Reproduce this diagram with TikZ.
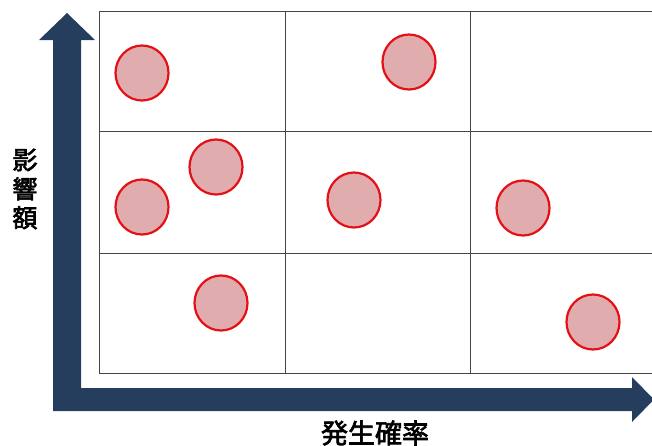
\documentclass[tikz,border=0pt]{standalone}
\usepackage{fontspec}
\usetikzlibrary{shapes.geometric}
\newfontfamily\cjk[FakeBold=2.5]{Noto Sans CJK JP}
\definecolor{navy}{RGB}{37,62,94}
\definecolor{riskfill}{RGB}{224,172,174}
\definecolor{riskline}{RGB}{228,16,22}
\definecolor{gridc}{RGB}{70,70,70}
\begin{document}
\begin{tikzpicture}[x=1pt,y=-1pt,
  risk/.style={ellipse,draw=riskline,fill=riskfill,line width=2.2pt,minimum width=53pt,minimum height=55pt,inner sep=0pt},
  gridline/.style={draw=gridc,line width=1pt},
  axis/.style={fill=navy},
  lbl/.style={font=\cjk\fontsize{27}{29}\selectfont,text=black,inner sep=0pt}]
\useasboundingbox (0,0) rectangle (652,445);
\begin{scope}
\clip (0,0) rectangle (652,445);
% grid
\draw[gridline] (99,11) -- (660,11);
\draw[gridline] (99,131) -- (660,131);
\draw[gridline] (99,253) -- (660,253);
\draw[gridline] (99,373) -- (660,373);
\draw[gridline] (99,11) -- (99,373);
\draw[gridline] (285,11) -- (285,373);
\draw[gridline] (470,11) -- (470,373);
% axes
\fill[axis] (53,40) -- (39,40) -- (67,13) -- (95,40) -- (81,40) -- (81,388)
  -- (632,388) -- (632,377) -- (654,399.5) -- (632,422) -- (632,411) -- (53,411) -- cycle;
\end{scope}
% circles
\node[risk] (c1) at (142,73) {};
\node[risk] (c2) at (409,62) {};
\node[risk] (c3) at (216,167) {};
\node[risk] (c4) at (142,207) {};
\node[risk] (c5) at (354,200) {};
\node[risk] (c6) at (523,208) {};
\node[risk] (c7) at (221,303) {};
\node[risk] (c8) at (593,322) {};
% labels
\node[lbl,align=center,font=\cjk\fontsize{25}{29}\selectfont] (ylab) at (25,189) {影\\響\\額};
\node[lbl] (xlab) at (375,433) {発生確率};
\end{tikzpicture}
\end{document}
